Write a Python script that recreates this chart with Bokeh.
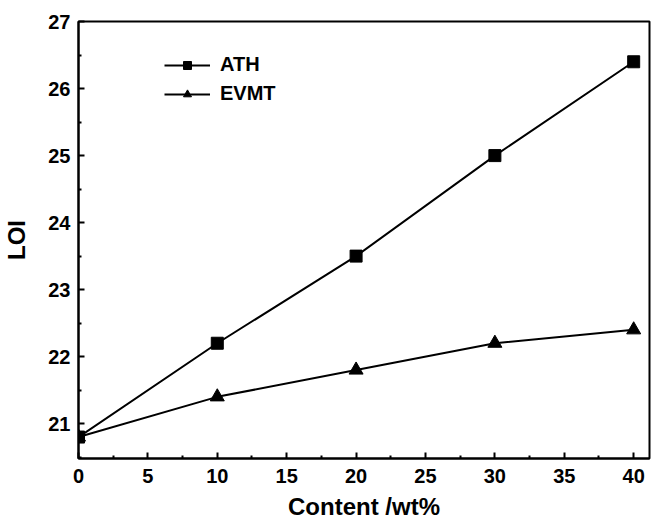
from bokeh.plotting import figure
from bokeh.models import Legend, LegendItem, FixedTicker, Range1d
from bokeh.embed import file_html
from bokeh.resources import INLINE

content = [0, 10, 20, 30, 40]
ath = [20.8, 22.2, 23.5, 25.0, 26.4]
evmt = [20.8, 21.4, 21.8, 22.2, 22.4]
x_ticks = [0, 5, 10, 15, 20, 25, 30, 35, 40]
y_ticks = [21, 22, 23, 24, 25, 26, 27]

FONT = "Liberation Sans"

p = figure(width=651, height=523, output_backend="svg", toolbar_location=None,
           x_range=Range1d(0, 41.14), y_range=Range1d(20.48, 27.001),
           min_border_left=72, min_border_right=2, min_border_top=21, min_border_bottom=65)
p.xgrid.visible = False
p.ygrid.visible = False
p.outline_line_color = "black"
p.outline_line_width = 2
p.background_fill_color = "white"
p.border_fill_color = "white"

p.axis.axis_line_width = 2
p.axis.axis_line_color = "black"
p.axis.major_tick_in = 6
p.axis.major_tick_out = 0
p.axis.minor_tick_in = 3
p.axis.minor_tick_out = 0
p.axis.major_tick_line_width = 2
p.axis.minor_tick_line_width = 2
p.axis.major_label_text_font = FONT
p.axis.major_label_text_font_style = "bold"
p.axis.major_label_text_font_size = "20px"
p.axis.major_label_text_color = "black"
p.axis.axis_label_text_font = FONT
p.axis.axis_label_text_font_style = "bold"
p.axis.axis_label_text_font_size = "24px"
p.axis.axis_label_text_color = "black"

p.xaxis.ticker = FixedTicker(ticks=x_ticks, minor_ticks=[2.5 + 5 * i for i in range(8)])
p.yaxis.ticker = FixedTicker(ticks=y_ticks, minor_ticks=[20.5 + i for i in range(7)])
p.xaxis.axis_label = "Content /wt%"
p.yaxis.axis_label = "LOI"
p.xaxis.major_label_standoff = 10
p.yaxis.major_label_standoff = 8
p.xaxis.axis_label_standoff = 7
p.yaxis.axis_label_standoff = 15

l1 = p.line(content, ath, line_color="black", line_width=2)
m1 = p.scatter(content, ath, marker="square", size=12, fill_color="black", line_color="black")
l2 = p.line(content, evmt, line_color="black", line_width=2)
m2 = p.scatter(content, evmt, marker="triangle", size=14, fill_color="black", line_color="black")

legend = Legend(items=[LegendItem(label="ATH", renderers=[l1, m1]),
                       LegendItem(label="EVMT", renderers=[l2, m2])],
                location=(86, 353), padding=0, margin=0, spacing=6,
                glyph_width=46, glyph_height=20, label_height=20,
                label_standoff=10,
                label_text_font=FONT, label_text_font_style="bold",
                label_text_font_size="20px", label_text_color="black",
                border_line_color=None, background_fill_alpha=0)
p.add_layout(legend)

open("out.html", "w").write(file_html(p, INLINE))
